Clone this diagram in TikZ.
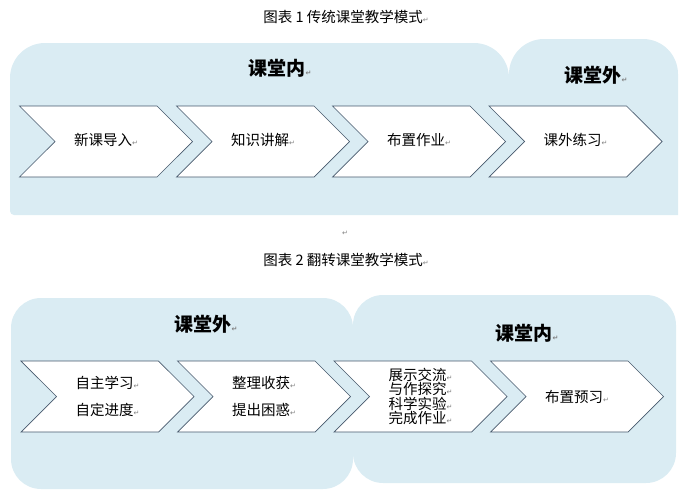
\documentclass[tikz,border=0pt]{standalone}
\usepackage{fontspec}
\setmainfont{Noto Sans CJK SC}
\newfontfamily\markfont{DejaVu Sans}
\usetikzlibrary{shapes.symbols}
\definecolor{panelblue}{RGB}{218,236,243}
\definecolor{chevedge}{RGB}{70,88,108}
\newcommand{\pmark}{{\markfont\fontsize{7}{7}\selectfont\color{gray}↵}}

\begin{document}
\begin{tikzpicture}[x=1pt,y=-1pt,
  panel/.style={fill=panelblue},
  chev/.style={signal,signal to=east,signal from=west,signal pointer angle=90,draw=chevedge,line width=0.7pt,fill=white,minimum width=173pt,minimum height=71pt,inner sep=0pt,align=center,font=\fontsize{14.5}{14.5}\selectfont},
  oneline/.style={align=none,text height=11pt,text depth=3pt},
  heading/.style={font=\fontsize{19}{19}\selectfont\bfseries},
  caption/.style={font=\fontsize{14.5}{14.5}\selectfont}]
\useasboundingbox (0,0) rectangle (685,490);

% figure 1
\node[caption] (cap1) at (346,17) {图表 1 传统课堂教学模式\pmark};
\fill[panel] (200,215) [rounded corners=4pt] -- (10,215) -- (10,150)
   [rounded corners=35pt] -- (10,43) -- (509,43) -- (509,150)
   [sharp corners] -- (509,215) -- cycle;
\fill[panel] (509,215) -- (509,120) [rounded corners=35pt] -- (509,39)
   -- (678,39) -- (678,120) [sharp corners] -- (678,215) -- cycle;
\node[heading] (intop) at (280,68) {课堂内\pmark};
\node[heading] (outtop) at (596,75) {课堂外\pmark};
\foreach \n/\x/\t in %
{1/106/新课导入\pmark,2/263/知识讲解\pmark,3/419/布置作业\pmark,4/575.5/课外练习\pmark} {
   \node[chev,oneline] (top\n) at (\x,141.5) {\t};
}
\node (blank) at (345,233) {\pmark};

% figure 2
\node[caption] (cap2) at (346,260) {图表 2 翻转课堂教学模式\pmark};
\fill[panel] (11,298) [rounded corners=30pt] rectangle (353,489);
\fill[panel] (353,295) [rounded corners=30pt] rectangle (676,483);
\node[heading] (outbot) at (206,324) {课堂外\pmark};
\node[heading] (inbot) at (527,333) {课堂内\pmark};
\foreach \n/\x/\t in %
{1/107.5/{自主学习\pmark\\[13pt]自定进度\pmark},
 2/264/{整理收获\pmark\\[13pt]提出困惑\pmark},
 3/420.5/{展示交流\pmark\\与作探究\pmark\\科学实验\pmark\\完成作业\pmark},
 4/577/布置预习\pmark} {
   \node[chev] (bot\n) at (\x,396.5) {\t};
}
\end{tikzpicture}
\end{document}
